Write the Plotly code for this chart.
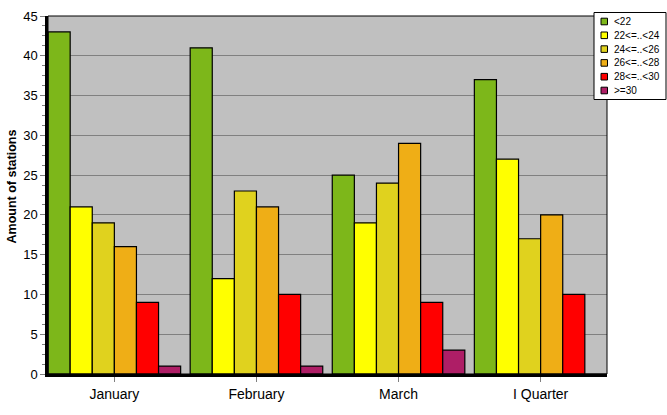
import plotly.graph_objects as go

categories = ["January", "February", "March", "I Quarter"]
series_names = ["<22", "22<=..<24", "24<=..<26", "26<=..<28", "28<=..<30", ">=30"]
s_lt22 = [43, 41, 25, 37]
s_22_24 = [21, 12, 19, 27]
s_24_26 = [19, 23, 24, 17]
s_26_28 = [16, 21, 29, 20]
s_28_30 = [9, 10, 9, 10]
s_ge30 = [1, 1, 3, 0]
colors = ["#7DB71A", "#FFFF00", "#E0D21E", "#EFAE16", "#FF0000", "#AE1E66"]
y_ticks = [0, 5, 10, 15, 20, 25, 30, 35, 40, 45]
y_title = "Amount of stations"

all_series = [s_lt22, s_22_24, s_24_26, s_26_28, s_28_30, s_ge30]

# plot area in window pixels
PL, PT, PW, PH = 48, 16, 559, 358


def px_x(x):
    return (x - PL) / PW


def px_y(y):
    return (PT + PH - y) / PH


fig = go.Figure()
for name, vals, col in zip(series_names, all_series, colors):
    fig.add_trace(go.Bar(
        x=categories, y=vals, name=name, showlegend=False,
        marker=dict(color=col, line=dict(color="black", width=1.2)),
    ))

shapes = [dict(type="rect", xref="paper", yref="paper", x0=0, y0=0, x1=1, y1=1,
               line=dict(color="black", width=1), layer="above")]
annotations = [dict(xref="paper", yref="paper", x=px_x(11.5), y=px_y(187),
                    xanchor="center", yanchor="middle", showarrow=False, textangle=-90,
                    text="<b>" + y_title + "</b>", font=dict(size=12.5, color="black"))]

# legend box
shapes.append(dict(type="rect", xref="paper", yref="paper",
                   x0=px_x(594), x1=px_x(666), y0=px_y(99.5), y1=px_y(12.5),
                   fillcolor="white", line=dict(color="black", width=1), layer="above"))
for i, (name, col) in enumerate(zip(series_names, colors)):
    yc = 21.5 + 13.8 * i
    shapes.append(dict(type="rect", xref="paper", yref="paper",
                       x0=px_x(601), x1=px_x(607.5), y0=px_y(yc + 3.3), y1=px_y(yc - 3.3),
                       fillcolor=col, line=dict(color="black", width=1), layer="above"))
    annotations.append(dict(xref="paper", yref="paper", x=px_x(611.5), y=px_y(yc),
                            xanchor="left", yanchor="middle", showarrow=False,
                            text=name, font=dict(size=10, color="black")))

fig.update_layout(
    width=667, height=415,
    margin=dict(l=PL, r=667 - PL - PW, t=PT, b=415 - PT - PH, autoexpand=False),
    paper_bgcolor="white",
    plot_bgcolor="#C0C0C0",
    barmode="group",
    bargap=0.067,
    bargroupgap=0,
    font=dict(family="Liberation Sans, Arial, sans-serif", size=13, color="black"),
    showlegend=False,
    xaxis=dict(
        range=[-0.467, 3.467],
        showline=True, linecolor="black", linewidth=2.5,
        ticks="outside", ticklen=5, tickcolor="#808080",
        tickfont=dict(size=14),
        showgrid=False, zeroline=False,
    ),
    yaxis=dict(
        range=[0, 45], tickvals=y_ticks,
        showline=True, linecolor="black", linewidth=2.5,
        ticks="outside", ticklen=5, tickcolor="#808080",
        showgrid=True, gridcolor="#808080", gridwidth=1,
        zeroline=False,
        minor=dict(dtick=1.25, ticks="outside", ticklen=3, tickcolor="#808080", showgrid=False),
    ),
    shapes=shapes,
    annotations=annotations,
)

fig.write_html("out.html", config={"displayModeBar": False},
               post_script="document.body.style.margin='0';document.body.style.overflow='hidden';")
